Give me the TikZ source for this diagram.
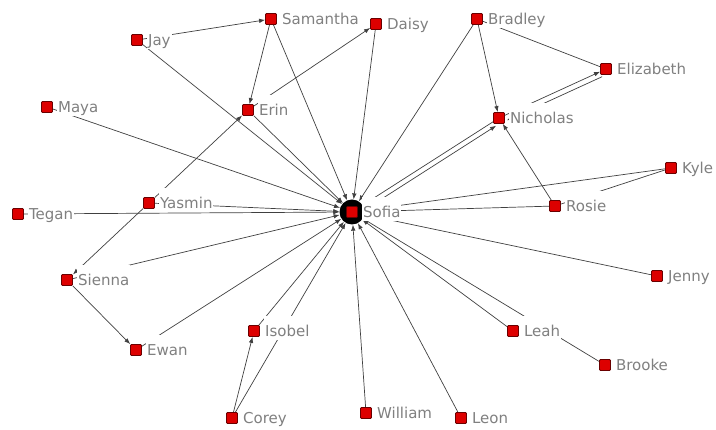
\documentclass[tikz,border=0pt]{standalone}
\usepackage{fontspec}
\setmainfont{DejaVu Sans}
\usetikzlibrary{arrows.meta,backgrounds}
\definecolor{nodered}{HTML}{DD0000}
\definecolor{nodeedge}{HTML}{6A0000}
\definecolor{lblgray}{HTML}{808080}
\begin{document}
\begin{tikzpicture}[x=1pt,y=-1pt,
  vtx/.style={rectangle, fill=nodered, draw=nodeedge, line width=0.8pt, minimum size=11pt, inner sep=0pt, rounded corners=1pt},
  lbl/.style={anchor=base west, fill=white, inner xsep=1pt, inner ysep=0.5pt, text height=20pt, text depth=3pt, text=lblgray, font=\fontsize{15}{17}\selectfont},
  edge/.style={draw=black!75, line width=0.7pt},
  arr/.style={edge, -{Latex[length=6pt,width=4.5pt]}}]
\useasboundingbox (0,0) rectangle (716,430);
% Sofia (hub)
\node[circle, fill=black, minimum size=25pt, inner sep=0pt] (sof) at (352,212) {};
\node[vtx] (sofsq) at (352,212) {};
% nodes
\node[vtx] (sam) at (271,19) {};
\node[vtx] (jay) at (137,40) {};
\node[vtx] (dai) at (376,24) {};
\node[vtx] (bra) at (477,19) {};
\node[vtx] (eli) at (606,69) {};
\node[vtx] (eri) at (248,110) {};
\node[vtx] (may) at (47,107) {};
\node[vtx] (nic) at (499,118) {};
\node[vtx] (kyl) at (671,168) {};
\node[vtx] (yas) at (149,203) {};
\node[vtx] (teg) at (18,214) {};
\node[vtx] (ros) at (555,206) {};
\node[vtx] (sie) at (67,280) {};
\node[vtx] (jen) at (657,276) {};
\node[vtx] (iso) at (254,331) {};
\node[vtx] (ewa) at (136,350) {};
\node[vtx] (lea) at (513,331) {};
\node[vtx] (bro) at (605,365) {};
\node[vtx] (cor) at (232,418) {};
\node[vtx] (wil) at (366,413) {};
\node[vtx] (leo) at (461,418) {};
% labels
\tikzset{lpos/.style={xshift=4pt,yshift=-6pt}}
\node[lbl] (Lsof) at ([lpos]sofsq.east) {Sofia};
\node[lbl] (Lsam) at ([lpos]sam.east) {Samantha};
\node[lbl] (Ljay) at ([lpos]jay.east) {Jay};
\node[lbl] (Ldai) at ([lpos]dai.east) {Daisy};
\node[lbl] (Lbra) at ([lpos]bra.east) {Bradley};
\node[lbl] (Leli) at ([lpos]eli.east) {Elizabeth};
\node[lbl] (Leri) at ([lpos]eri.east) {Erin};
\node[lbl] (Lmay) at ([lpos]may.east) {Maya};
\node[lbl] (Lnic) at ([lpos]nic.east) {Nicholas};
\node[lbl] (Lkyl) at ([lpos]kyl.east) {Kyle};
\node[lbl] (Lyas) at ([lpos]yas.east) {Yasmin};
\node[lbl] (Lteg) at ([lpos]teg.east) {Tegan};
\node[lbl] (Lros) at ([lpos]ros.east) {Rosie};
\node[lbl] (Lsie) at ([lpos]sie.east) {Sienna};
\node[lbl] (Ljen) at ([lpos]jen.east) {Jenny};
\node[lbl] (Liso) at ([lpos]iso.east) {Isobel};
\node[lbl] (Lewa) at ([lpos]ewa.east) {Ewan};
\node[lbl] (Llea) at ([lpos]lea.east) {Leah};
\node[lbl] (Lbro) at ([lpos]bro.east) {Brooke};
\node[lbl] (Lcor) at ([lpos]cor.east) {Corey};
\node[lbl] (Lwil) at ([lpos]wil.east) {William};
\node[lbl] (Lleo) at ([lpos]leo.east) {Leon};
\begin{pgfonlayer}{background}
% edges into Sofia
\foreach \n in {jay,sam,eri,dai,may,yas,teg,sie,ewa,iso,cor,wil,leo,lea,bro,jen,ros,kyl,nic,bra}
  \draw[arr] (\n) -- (sof);
\draw[arr, transform canvas={shift={(3pt,-4pt)}}] (sof) -- (nic);
% other edges
\draw[arr] (jay) -- (sam);
\draw[arr] (sam) -- (eri);
\draw[arr] (eri) -- (dai);
\draw[arr] (yas) -- (eri);
\draw[arr] (yas) -- (sie);
\draw[arr] (sie) -- (ewa);
\draw[arr] (cor) -- (iso);
\draw[arr] (ros) -- (nic);
\draw[arr] (bra) -- (nic);
\draw[edge] (bra) -- (eli);
\draw[arr] (nic) -- (eli);
\draw[arr, transform canvas={shift={(2pt,-5pt)}}] (eli) -- (nic);
\draw[edge] (ros) -- (kyl);
\end{pgfonlayer}
\end{tikzpicture}
\end{document}
